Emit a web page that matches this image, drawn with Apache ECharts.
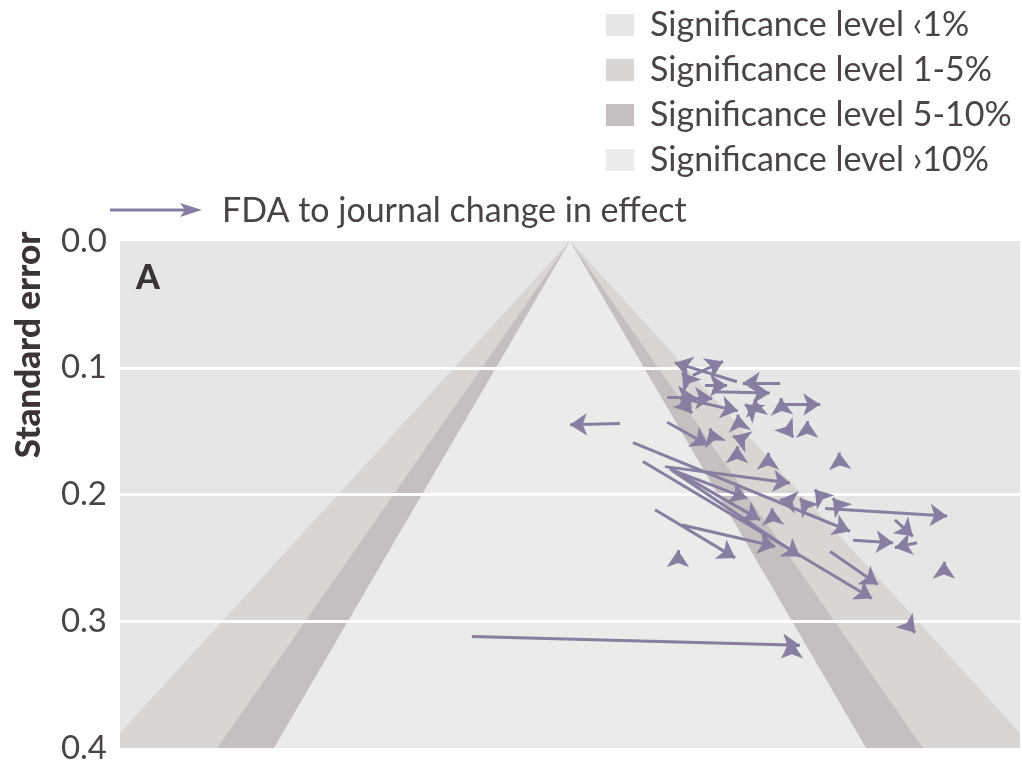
<!DOCTYPE html>
<html>
<head>
<meta charset="utf-8"/>
<title>Funnel plot</title>
<script src="https://cdn.jsdelivr.net/npm/echarts@6/dist/echarts.min.js"></script>
</head>
<body style="margin:0;background:#fff;">
<div id="main" style="width:1022px;height:767px;"></div>
<script type="text/javascript">
// significance bands (z value of each funnel edge) and legend names
var bandNames = ['Significance level \u20391%', 'Significance level 1-5%', 'Significance level 5-10%', 'Significance level \u203A10%'];
var bandZ = [null, 2.576, 1.96, 1.645];
var bandColors = ['#e6e6e6', '#d9d5d3', '#c5bfc0', '#ebebea'];
var seTicks = [0, 0.1, 0.2, 0.3, 0.4];

// FDA effect -> journal effect, with their standard errors
var fdaX     = [0.371, 0.273, 0.262, 0.300, 0.467, 0.316, 0.216, 0.244, 0.260, 0.258, 0.405, 0.413, 0.473, 0.470, 0.111, 0.216, 0.317, 0.482, 0.527, 0.375, 0.378, 0.371, 0.440, 0.599, 0.140, 0.162, 0.211, 0.222, 0.222, 0.227, 0.189, 0.249, 0.578, 0.629, 0.771, 0.567, 0.722, 0.750, -0.218, 0.493, 0.240, 0.831, 0.450, 0.483, 0.558, 0.598, 0.525];
var fdaSE    = [0.111, 0.106, 0.110, 0.114, 0.112, 0.119, 0.123, 0.124, 0.125, 0.130, 0.133, 0.131, 0.129, 0.130, 0.144, 0.143, 0.154, 0.148, 0.148, 0.143, 0.156, 0.168, 0.173, 0.173, 0.159, 0.174, 0.178, 0.179, 0.180, 0.181, 0.212, 0.224, 0.245, 0.236, 0.238, 0.211, 0.220, 0.302, 0.312, 0.322, 0.250, 0.259, 0.217, 0.205, 0.202, 0.209, 0.209];
var journalX = [0.233, 0.340, 0.249, 0.349, 0.384, 0.444, 0.278, 0.316, 0.373, 0.271, 0.389, 0.411, 0.556, 0.469, 0.000, 0.307, 0.311, 0.496, 0.527, 0.373, 0.362, 0.371, 0.440, 0.598, 0.622, 0.671, 0.489, 0.422, 0.393, 0.511, 0.367, 0.456, 0.684, 0.718, 0.722, 0.838, 0.762, 0.767, 0.511, 0.493, 0.240, 0.831, 0.449, 0.467, 0.544, 0.584, 0.511];
var journalSE= [0.096, 0.095, 0.104, 0.114, 0.112, 0.120, 0.123, 0.124, 0.134, 0.136, 0.129, 0.125, 0.129, 0.124, 0.145, 0.161, 0.148, 0.155, 0.142, 0.137, 0.154, 0.162, 0.167, 0.167, 0.229, 0.282, 0.191, 0.220, 0.203, 0.249, 0.250, 0.241, 0.271, 0.238, 0.242, 0.217, 0.233, 0.309, 0.319, 0.316, 0.244, 0.253, 0.211, 0.204, 0.196, 0.203, 0.203];

var seMax = 0.4;
var arrowColor = '#877ea1';
var textColor = '#4a4446';
var font = 'Lato';

var myChart = echarts.init(document.getElementById('main'));

var series = bandNames.map(function (name, i) {
    return {
        name: name,
        type: 'custom',
        clip: true,
        silent: true,
        z: 1,
        itemStyle: { color: bandColors[i] },
        data: [[0, 0]],
        renderItem: function (params, api) {
            var pts;
            if (bandZ[i] === null) {
                pts = [[-1, 0], [1, 0], [1, seMax], [-1, seMax]];
            } else {
                var w = bandZ[i] * seMax;
                pts = [[0, 0], [w, seMax], [-w, seMax]];
            }
            return {
                type: 'polygon',
                shape: { points: pts.map(function (p) { return api.coord(p); }) },
                style: { fill: bandColors[i] }
            };
        }
    };
});

var arrowData = [];
for (var k = 0; k < fdaX.length; k++) {
    arrowData.push({ coords: [[fdaX[k], fdaSE[k]], [journalX[k], journalSE[k]]] });
}
series.push({
    name: 'FDA to journal change in effect',
    type: 'lines',
    coordinateSystem: 'cartesian2d',
    z: 5,
    silent: true,
    symbol: ['none', 'arrow'],
    symbolSize: 17,
    lineStyle: { color: arrowColor, width: 3, opacity: 1, curveness: 0 },
    data: arrowData
});

var option = {
    animation: false,
    backgroundColor: '#ffffff',
    grid: { left: 120, right: 2, top: 241, bottom: 19, show: false },
    legend: {
        data: bandNames,
        orient: 'vertical',
        left: 601,
        top: 3,
        icon: 'rect',
        itemWidth: 28,
        itemHeight: 22,
        itemGap: 11,
        selectedMode: false,
        textStyle: { fontFamily: font, fontSize: 34, color: textColor, padding: [0, 0, 0, 11] }
    },
    xAxis: {
        type: 'value',
        min: -1,
        max: 1,
        interval: 0.5,
        z: 3,
        axisLine: { show: false },
        axisLabel: { show: false },
        splitLine: { show: false },
        axisTick: {
            show: true, inside: true, length: 8,
            lineStyle: { color: '#ffffff', width: 2 },
            customValues: [-0.5, 0, 0.5]
        }
    },
    yAxis: {
        type: 'value',
        inverse: true,
        min: 0,
        max: seMax,
        interval: 0.1,
        z: 3,
        axisLine: { show: false },
        axisTick: { show: false },
        axisLabel: {
            fontFamily: font, fontSize: 33, color: textColor, margin: 13,
            formatter: function (v) { return v.toFixed(1); }
        },
        splitLine: { show: true, showMinLine: false, showMaxLine: false, lineStyle: { color: '#ffffff', width: 3 } }
    },
    graphic: [
        {
            type: 'text', x: 29, y: 345, rotation: Math.PI / 2,
            style: { text: 'Standard error', font: '900 35px Lato', fill: '#3a3436', textAlign: 'center', textVerticalAlign: 'middle' }
        },
        {
            type: 'text', x: 148, y: 278, z: 10,
            style: { text: 'A', font: '900 34px Lato', fill: '#3a3436', textAlign: 'center', textVerticalAlign: 'middle' }
        },
        {
            type: 'line', shape: { x1: 110, y1: 210, x2: 186, y2: 210 },
            style: { stroke: arrowColor, lineWidth: 3 }
        },
        {
            type: 'polygon', shape: { points: [[202, 210], [180, 203], [185, 210], [180, 217]] },
            style: { fill: arrowColor }
        },
        {
            type: 'text', x: 222, y: 211,
            style: { text: 'FDA to journal change in effect', font: '34px Lato', fill: textColor, textVerticalAlign: 'middle' }
        }
    ],
    series: series
};

myChart.setOption(option);
</script>
</body>
</html>
